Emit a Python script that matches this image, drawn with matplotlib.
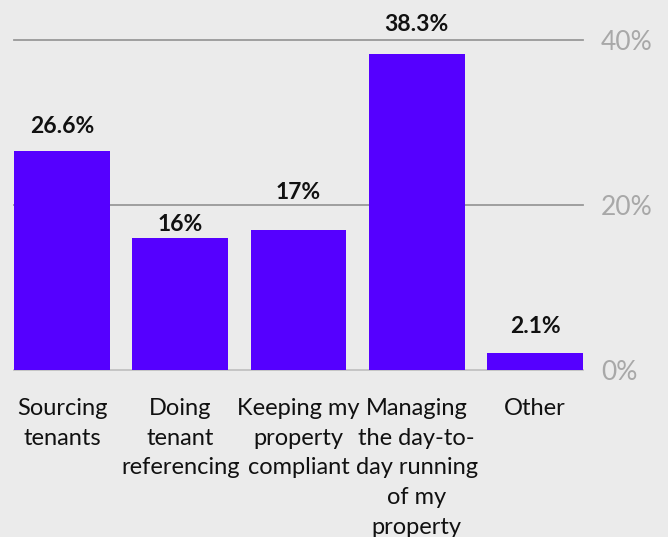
import matplotlib
matplotlib.use("Agg")
import matplotlib.pyplot as plt

categories = ["Sourcing\ntenants", "Doing\ntenant\nreferencing", "Keeping my\nproperty\ncompliant",
              "Managing\nthe day-to-\nday running\nof my\nproperty", "Other"]
values = [26.6, 16, 17, 38.3, 2.1]
value_labels = ["26.6%", "16%", "17%", "38.3%", "2.1%"]
yticks = [0, 20, 40]
ytick_labels = ["0%", "20%", "40%"]

# label offsets above bar top (points)
label_offsets = [17, 10, 27, 21, 19]

bg = "#ebebeb"
fig = plt.figure(figsize=(6.68, 5.37), dpi=100, facecolor=bg)
W, H = 668, 537
ax = fig.add_axes([14 / W, (H - 370) / H, (583 - 14) / W, 330 / H])
ax.set_facecolor(bg)

x = list(range(len(values)))
ax.set_xlim(-0.406, 4.406)
ax.set_ylim(0, 40)

for t in yticks:
    ax.axhline(t, color="#c2c2c2" if t == 0 else "#999999", lw=1.3, zorder=1, clip_on=False)

ax.bar(x, values, width=0.81, color="#5500ff", zorder=2)

for xi, v, lab, off in zip(x, values, value_labels, label_offsets):
    ax.annotate(lab, (xi, v), xytext=(0, off), textcoords="offset points", ha="center", va="center",
                fontsize=16.5, fontweight="bold", family="Lato", color="#111111", clip_on=False)

for s in ax.spines.values():
    s.set_visible(False)
ax.set_xticks(x)
ax.set_xticklabels(categories, fontsize=17, family="Lato", color="#111111", linespacing=1.52, va="top")
ax.tick_params(axis="x", length=0, pad=20)
ax.yaxis.tick_right()
ax.set_yticks(yticks)
ax.set_yticklabels(ytick_labels, fontsize=19, family="Lato", fontweight="normal", color="#a8a8a8")
ax.tick_params(axis="y", length=0, pad=13)

fig.savefig("out.png", dpi=100, facecolor=bg)
